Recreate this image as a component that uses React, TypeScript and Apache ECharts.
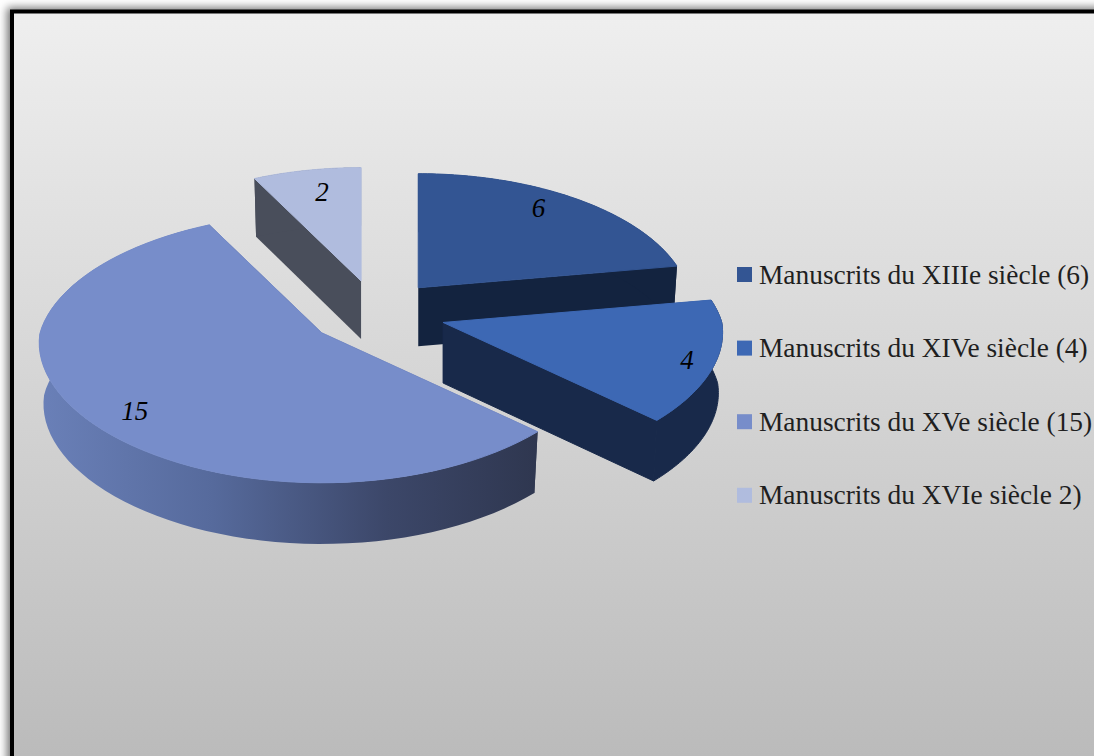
import React, { useEffect, useRef } from "react";
import * as echarts from "echarts";

const categories = [
  "Manuscrits du XIIIe siècle (6)",
  "Manuscrits du XIVe siècle (4)",
  "Manuscrits du XVe siècle (15)",
  "Manuscrits du XVIe siècle 2)",
];
const values = [6, 4, 15, 2];
const topColors = ["#335593", "#3d68b4", "#778dca", "#b0bcde"];
const sideColors = ["#13233f", "#18294a", "#6a80b8", "#494e5b"];
const labelReachX = [0.77, 0.894, 0.79, 0.72];
const labelReachY = [0.89, 0.97, 0.92, 0.8];

const WIDTH = 1094;
const HEIGHT = 756;
const CX = 377;
const CY = 313;
const RX = 276;
const RY = 130.3;
const PERSP_Y = 0.114;
const PERSP_X_BACK = 0.14;
const PERSP_X_FRONT = 0.075;
const PERSP_OFFSET = 0.134 * 0.25;
const EXPLODE_X = 69;
const EXPLODE_Y = 33;
const DEPTH = 60;
const LOWER_NARROW = 0.985;
const total = values.reduce((a, b) => a + b, 0);

function sliceAngles(index: number) {
  const before = values.slice(0, index).reduce((a, b) => a + b, 0);
  return [(before / total) * Math.PI * 2, ((before + values[index]) / total) * Math.PI * 2];
}

function renderSlice(index: number) {
  return (_params: any, api: any) => {
    const [a0, a1] = sliceAngles(index);
    const mid = a0 + ((api.value(0) / total) * Math.PI * 2) / 2;
    const nudge = index === 0 ? 0.93 : 1;
    const ax = CX + EXPLODE_X * nudge * Math.sin(mid);
    const ay = CY - EXPLODE_Y * Math.cos(mid);
    const scale = 1 / (1 + PERSP_OFFSET * Math.cos(mid));
    const offset = (theta: number, r: number): number[] => {
      const c = Math.cos(theta);
      const wx = 1 + (c >= 0 ? PERSP_X_BACK : PERSP_X_FRONT) * r * c;
      const wy = 1 + PERSP_Y * r * c;
      return [(RX * scale * r * Math.sin(theta)) / wx, -(RY * scale * r * c) / wy];
    };
    const project = (theta: number, r: number): number[] => {
      const o = offset(theta, r);
      return [ax + o[0], ay + o[1]];
    };
    const depth = DEPTH * scale;
    const lower = (p: number[]): number[] => [ax + (p[0] - ax) * LOWER_NARROW, p[1] + depth];
    const steps = 72;
    const arc: number[][] = [];
    for (let i = 0; i <= steps; i++) arc.push(project(a0 + ((a1 - a0) * i) / steps, 1));
    const arcLow = arc.map(lower).reverse();
    const apex = project(0, 0);
    const apexLow = lower(apex);
    const sideFill =
      index === 2
        ? new echarts.graphic.LinearGradient(
            40,
            0,
            535,
            0,
            [
              { offset: 0, color: "#6a80b8" },
              { offset: 0.35, color: "#566a9c" },
              { offset: 0.7, color: "#3c4769" },
              { offset: 1, color: "#2f3750" },
            ],
            true,
          )
        : sideColors[index];
    const faceFill = index === 2 ? "#2f3750" : sideColors[index];
    const poly = (points: number[][], fill: any, seal = false) => ({
      type: "polygon",
      shape: { points },
      style: seal ? { fill, stroke: fill, lineWidth: 1 } : { fill, stroke: null },
    });
    const unit = offset(mid, 1);
    return {
      type: "group",
      children: [
        poly([apex, arc[0], lower(arc[0]), apexLow], faceFill),
        poly([apex, arc[steps], lower(arc[steps]), apexLow], faceFill, index === 1),
        poly([...arc, ...arcLow], sideFill, index === 1),
        poly([apex, ...arc], topColors[index], true),
        {
          type: "text",
          style: {
            text: String(api.value(0)),
            x: ax + unit[0] * labelReachX[index],
            y: ay + unit[1] * labelReachY[index],
            align: "center",
            verticalAlign: "middle",
            fontFamily: "Liberation Serif",
            fontStyle: "italic",
            fontSize: 27,
            fill: "#000000",
          },
        },
      ],
    };
  };
}

export default function App() {
  const ref = useRef<HTMLDivElement>(null);
  useEffect(() => {
    document.body.style.margin = "0";
    document.body.style.overflow = "hidden";
    const chart = echarts.init(ref.current!, undefined, { renderer: "svg" });
    chart.setOption({
      animation: false,
      backgroundColor: "#ffffff",
      graphic: [
        {
          type: "rect",
          z: -10,
          shape: { x: 12, y: 11.5, width: 1200, height: 900 },
          style: {
            fill: new echarts.graphic.LinearGradient(
              0,
              12,
              0,
              HEIGHT,
              [
                { offset: 0, color: "#efefef" },
                { offset: 1, color: "#bbbbbb" },
              ],
              true,
            ),
            stroke: "#000000",
            lineWidth: 4,
            shadowBlur: 9,
            shadowColor: "rgba(0,0,0,0.55)",
            shadowOffsetX: -3,
            shadowOffsetY: -2,
          },
        },
      ],
      legend: {
        orient: "vertical",
        left: 737,
        top: 261,
        padding: 0,
        itemWidth: 15,
        itemHeight: 15,
        itemGap: 46.6,
        selectedMode: false,
        data: categories.map((name, i) => ({
          name,
          icon: "rect",
          itemStyle: { color: topColors[i] },
        })),
        textStyle: {
          fontFamily: "Liberation Serif",
          fontSize: 27.4,
          color: "#1f1f1f",
          padding: [0, 0, 0, 2],
        },
      },
      series: categories.map((name, i) => ({
        type: "custom",
        name,
        coordinateSystem: "none",
        silent: true,
        itemStyle: { color: topColors[i] },
        renderItem: renderSlice(i),
        data: [[values[i]]],
      })),
    });
    return () => chart.dispose();
  }, []);
  return <div ref={ref} style={{ width: WIDTH, height: HEIGHT }} />;
}
